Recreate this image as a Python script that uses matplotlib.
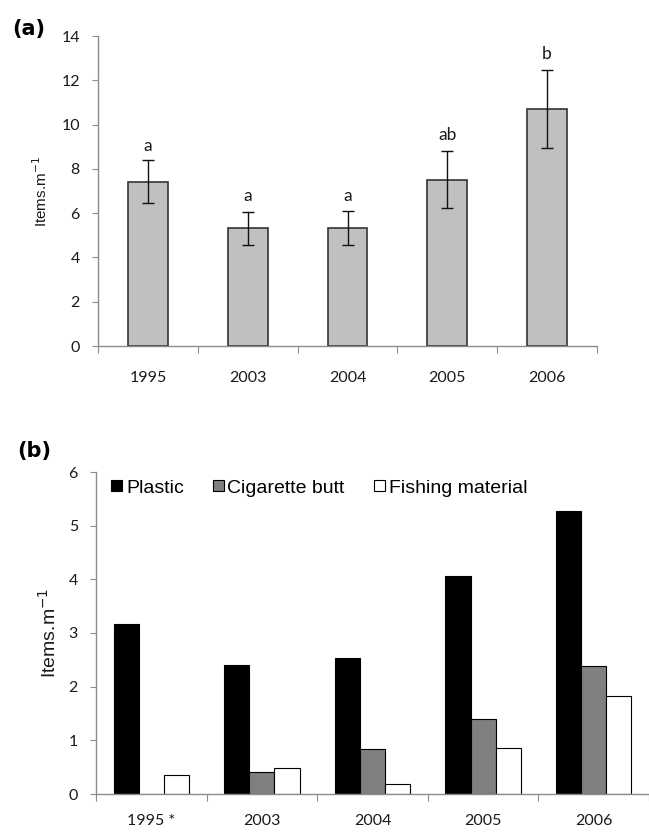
import matplotlib
matplotlib.use("Agg")
import matplotlib.pyplot as plt
import numpy as np

years_a = ["1995", "2003", "2004", "2005", "2006"]
totals = [7.41, 5.32, 5.32, 7.51, 10.7]
errors = [0.97, 0.74, 0.78, 1.30, 1.75]
letters = ["a", "a", "a", "ab", "b"]
letter_y = [9.01, 6.79, 6.79, 9.53, 13.18]

years_b = ["1995 *", "2003", "2004", "2005", "2006"]
plastic = [3.16, 2.41, 2.54, 4.07, 5.28]
cigarette = [0.0, 0.41, 0.83, 1.40, 2.38]
fishing = [0.36, 0.49, 0.185, 0.85, 1.83]
series_names = ["Plastic", "Cigarette butt", "Fishing material"]

plt.rcParams['font.family'] = ['Lato', 'DejaVu Sans']
W, H = 649, 832
fig = plt.figure(figsize=(W / 100, H / 100), dpi=100)

def style(ax, n, pad_x):
    for s in ['top', 'right']:
        ax.spines[s].set_visible(False)
    for s in ['left', 'bottom']:
        ax.spines[s].set_color('#8c8c8c')
        ax.spines[s].set_linewidth(1.0)
    ax.set_xlim(-0.5, n - 0.5)
    ax.set_xticks(np.arange(n + 1) - 0.5)
    ax.set_xticklabels([])
    ax.set_xticks(np.arange(n), minor=True)
    ax.tick_params(axis='x', which='major', length=5, color='#8c8c8c', direction='out')
    ax.tick_params(axis='x', which='minor', length=0, labelsize=11.5, colors='#1a1a1a', pad=pad_x)
    ax.tick_params(axis='y', length=4, color='#8c8c8c', labelsize=11.5, colors='#1a1a1a', pad=9)

# Panel (a)
ax1 = fig.add_axes([98 / W, 1 - 346 / H, 499 / W, 310 / H])
x = np.arange(len(years_a))
ax1.bar(x, totals, width=0.4, color='#c0c0c0', edgecolor='#333333', linewidth=1.2, zorder=2)
ax1.errorbar(x, totals, yerr=errors, fmt='none', ecolor='#111111', elinewidth=1.0,
             capsize=4, capthick=1.0, zorder=3)
for xi, l, ly in zip(x, letters, letter_y):
    ax1.text(xi, ly, l, ha='center', va='center', fontsize=12.5, color='#1a1a1a')
style(ax1, len(years_a), 18)
ax1.set_ylim(0, 14)
ax1.set_yticks(range(0, 15, 2))
ax1.set_xticklabels(years_a, minor=True)
ax1.set_ylabel("Items.m$^{-1}$", fontsize=11, color='#1a1a1a', labelpad=8,
               family='Liberation Sans')
fig.text(12 / W, 1 - 29 / H, "(a)", fontsize=15, fontweight='bold', va='center', ha='left',
         family='DejaVu Sans')

# Panel (b)
ax2 = fig.add_axes([96 / W, 1 - 794 / H, 553 / W, 322 / H])
w = 0.227
xb = np.arange(len(years_b))
ax2.bar(xb - w, plastic, width=w, color='black', edgecolor='black', linewidth=0.8,
        label=series_names[0], zorder=2)
ax2.bar(xb, cigarette, width=w, color='#808080', edgecolor='black', linewidth=0.8,
        label=series_names[1], zorder=2)
ax2.bar(xb + w, fishing, width=w, color='white', edgecolor='black', linewidth=0.8,
        label=series_names[2], zorder=2)
style(ax2, len(years_b), 14.5)
ax2.set_ylim(0, 6)
ax2.set_yticks(range(0, 7, 1))
ax2.set_xticklabels(years_b, minor=True)
ax2.set_ylabel("Items.m$^{-1}$", fontsize=14, color='#1a1a1a', labelpad=6,
               family='Liberation Sans')
leg = ax2.legend(loc='center left', bbox_to_anchor=((118 - 96) / 553 - 0.012, (794 - 488) / 322),
                 ncol=3, frameon=False,
                 prop={'family': 'Liberation Sans', 'size': 14}, handlelength=0.55,
                 handleheight=0.55, handletextpad=0.2, columnspacing=1.5, borderaxespad=0.0,
                 borderpad=0.0)
fig.text(17 / W, 1 - 451 / H, "(b)", fontsize=15, fontweight='bold', va='center', ha='left',
         family='DejaVu Sans')

fig.savefig("out.png", dpi=100)
